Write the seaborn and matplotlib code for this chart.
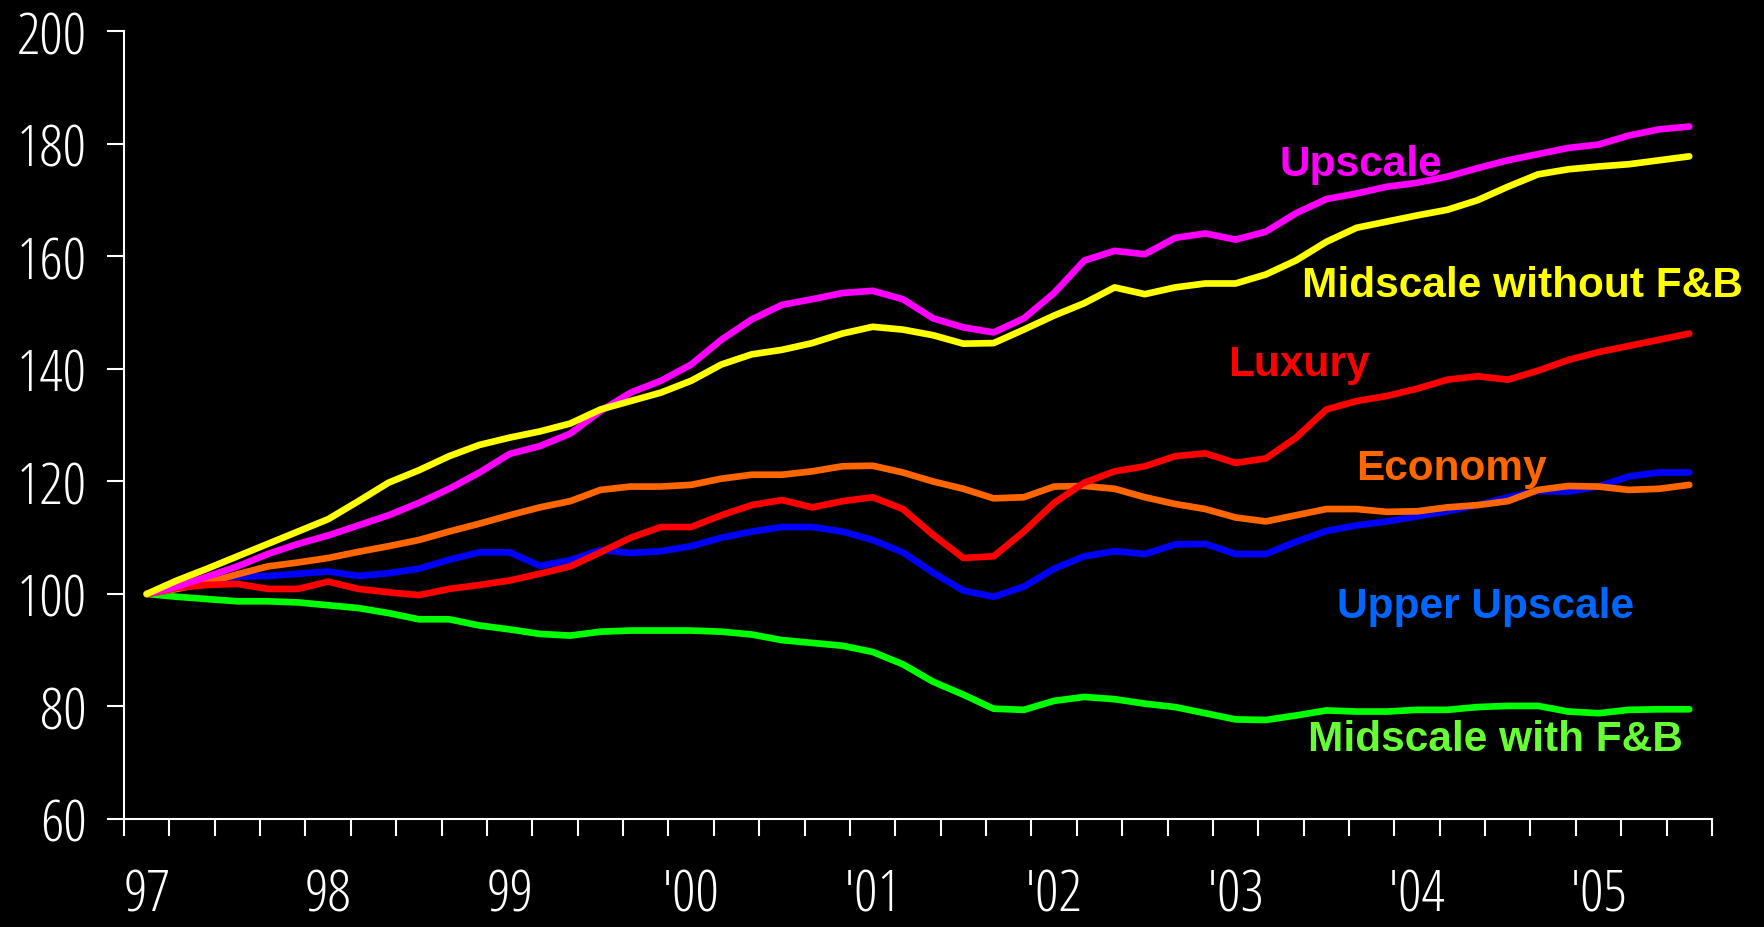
import matplotlib
matplotlib.use("Agg")
import matplotlib.pyplot as plt
import seaborn as sns
import pandas as pd
import numpy as np

# months since Jan 1997, sampled every two months
months = list(range(0, 104, 2))

upscale = [100, 101.3, 103.1, 104.9, 107.1, 108.9, 110.4, 112.2, 114.0, 116.2, 118.7, 121.6, 124.9, 126.3,
           128.5, 132.5, 135.8, 137.9, 140.8, 145.2, 148.8, 151.4, 152.4, 153.5, 153.9, 152.4, 149.0,
           147.4, 146.5, 149.0, 153.5, 159.3, 161.0, 160.4, 163.3, 164.1, 163.0, 164.4, 167.7, 170.2,
           171.2, 172.4, 173.1, 174.2, 175.7, 177.1, 178.2, 179.3, 179.9, 181.5, 182.6, 183.1]
midscale_no_fb = [100, 102.4, 104.5, 106.7, 108.9, 111.1, 113.3, 116.5, 119.8, 122.0, 124.5, 126.5, 127.8, 128.9,
                  130.3, 132.8, 134.3, 135.8, 137.9, 140.8, 142.6, 143.4, 144.6, 146.3, 147.5, 147.0, 146.0,
                  144.5, 144.6, 147.0, 149.5, 151.7, 154.5, 153.3, 154.5, 155.2, 155.2, 156.8, 159.3, 162.6,
                  165.1, 166.2, 167.3, 168.3, 170.0, 172.4, 174.6, 175.5, 176.0, 176.4, 177.1, 177.8]
luxury = [100, 101.1, 101.6, 101.8, 100.9, 100.9, 102.2, 100.9, 100.3, 99.8, 100.9, 101.6, 102.4, 103.6,
          104.9, 107.4, 110.0, 111.9, 111.9, 114.0, 115.8, 116.7, 115.4, 116.5, 117.2, 115.1, 110.5,
          106.4, 106.7, 111.1, 116.2, 119.8, 121.8, 122.7, 124.5, 125.0, 123.3, 124.1, 127.8, 132.8,
          134.3, 135.2, 136.5, 138.1, 138.7, 138.1, 139.7, 141.6, 143.0, 144.1, 145.2, 146.3]
economy = [100, 100.9, 102.0, 103.5, 104.9, 105.6, 106.4, 107.5, 108.5, 109.6, 111.1, 112.5, 114.0, 115.4,
           116.5, 118.5, 119.1, 119.1, 119.4, 120.5, 121.2, 121.2, 121.8, 122.7, 122.8, 121.6, 120.0,
           118.7, 117.0, 117.2, 119.1, 119.2, 118.7, 117.2, 116.0, 115.1, 113.6, 112.9, 114.0, 115.1,
           115.1, 114.6, 114.7, 115.4, 115.8, 116.5, 118.5, 119.2, 119.1, 118.5, 118.7, 119.4]
upper_upscale = [100, 100.9, 102.0, 103.1, 103.2, 103.6, 104.0, 103.2, 103.7, 104.5, 106.1, 107.4, 107.4, 105.0,
                 106.0, 107.8, 107.3, 107.6, 108.5, 110.0, 111.1, 111.9, 111.9, 111.1, 109.6, 107.4, 103.8,
                 100.6, 99.5, 101.3, 104.5, 106.7, 107.6, 107.1, 108.8, 108.9, 107.1, 107.1, 109.3, 111.2,
                 112.2, 112.9, 113.8, 114.7, 115.8, 117.2, 118.3, 118.2, 119.1, 120.9, 121.6, 121.6]
midscale_fb = [100, 99.5, 99.1, 98.7, 98.7, 98.5, 98.0, 97.5, 96.6, 95.5, 95.5, 94.4, 93.7, 92.9,
               92.6, 93.3, 93.5, 93.5, 93.5, 93.3, 92.8, 91.8, 91.3, 90.8, 89.7, 87.5, 84.4,
               82.1, 79.6, 79.4, 81.0, 81.7, 81.3, 80.5, 79.9, 78.8, 77.7, 77.6, 78.4, 79.3,
               79.1, 79.1, 79.4, 79.4, 79.9, 80.1, 80.1, 79.1, 78.8, 79.4, 79.5, 79.5]

segments = ["Midscale with F&B", "Upper Upscale", "Economy", "Luxury", "Upscale", "Midscale without F&B"]
line_colors = ["#00FF00", "#0000FF", "#FF6600", "#FF0000", "#FF00FF", "#FFFF00"]
label_colors = ["#66FF33", "#0066FF", "#FF6600", "#FF0000", "#FF00FF", "#FFFF00"]
# label anchor (month, index value)
label_x = [89.2, 88.5, 86.3, 76.2, 80.3, 91.0]
label_y = [74.2, 97.8, 122.4, 140.8, 176.4, 155.0]

year_pos = list(range(0, 97, 12))
year_labels = ["97", "98", "99", "'00", "'01", "'02", "'03", "'04", "'05"]

values = [midscale_fb, upper_upscale, economy, luxury, upscale, midscale_no_fb]
df = pd.concat([pd.DataFrame({"month": months, "index": v, "segment": s}) for s, v in zip(segments, values)])

sns.set_theme(style="ticks", rc={
    "figure.facecolor": "black",
    "axes.facecolor": "black",
    "axes.edgecolor": "white",
    "xtick.color": "white",
    "ytick.color": "white",
    "text.color": "white",
})

fig = plt.figure(figsize=(17.64, 9.28), dpi=100)
ax = fig.add_axes([0.0703, 0.1164, 0.9002, 0.8486])

sns.lineplot(data=df, x="month", y="index", hue="segment", hue_order=segments,
             palette=line_colors, linewidth=4.8, legend=False, ax=ax,
             solid_capstyle="round", solid_joinstyle="round")

ax.set_xlim(-1.5, 103.5)
ax.set_ylim(60, 200)
ax.set_xlabel("")
ax.set_ylabel("")

# narrow face for the axis numbers
tick_font = dict(family=["Open Sans", "DejaVu Sans"], stretch="condensed", weight=300)
ax.set_yticks(range(60, 201, 20))
ax.set_yticklabels([str(v) for v in range(60, 201, 20)], fontsize=42, **tick_font)
ax.set_xticks(np.arange(-1.5, 104, 3))
ax.set_xticklabels([])
ax.set_xticks(year_pos, minor=True)
ax.set_xticklabels(year_labels, minor=True, fontsize=42, **tick_font)
for t in ax.get_xticklabels(minor=True):
    t.set_verticalalignment("bottom")

ax.tick_params(axis="y", length=12, width=1.5, pad=15, colors="white")
ax.tick_params(axis="x", which="major", length=12, width=1.5, colors="white")
ax.tick_params(axis="x", which="minor", length=0, pad=76, colors="white")

sns.despine(ax=ax)
for sp in ["left", "bottom"]:
    ax.spines[sp].set_color("white")
    ax.spines[sp].set_linewidth(1.5)

for name, c, lx, ly in zip(segments, label_colors, label_x, label_y):
    ax.text(lx, ly, name, color=c, ha="center", va="center", fontsize=30.5,
            fontweight="bold", family=["Liberation Sans", "DejaVu Sans"])

fig.savefig("out.png", dpi=100, facecolor="black")
